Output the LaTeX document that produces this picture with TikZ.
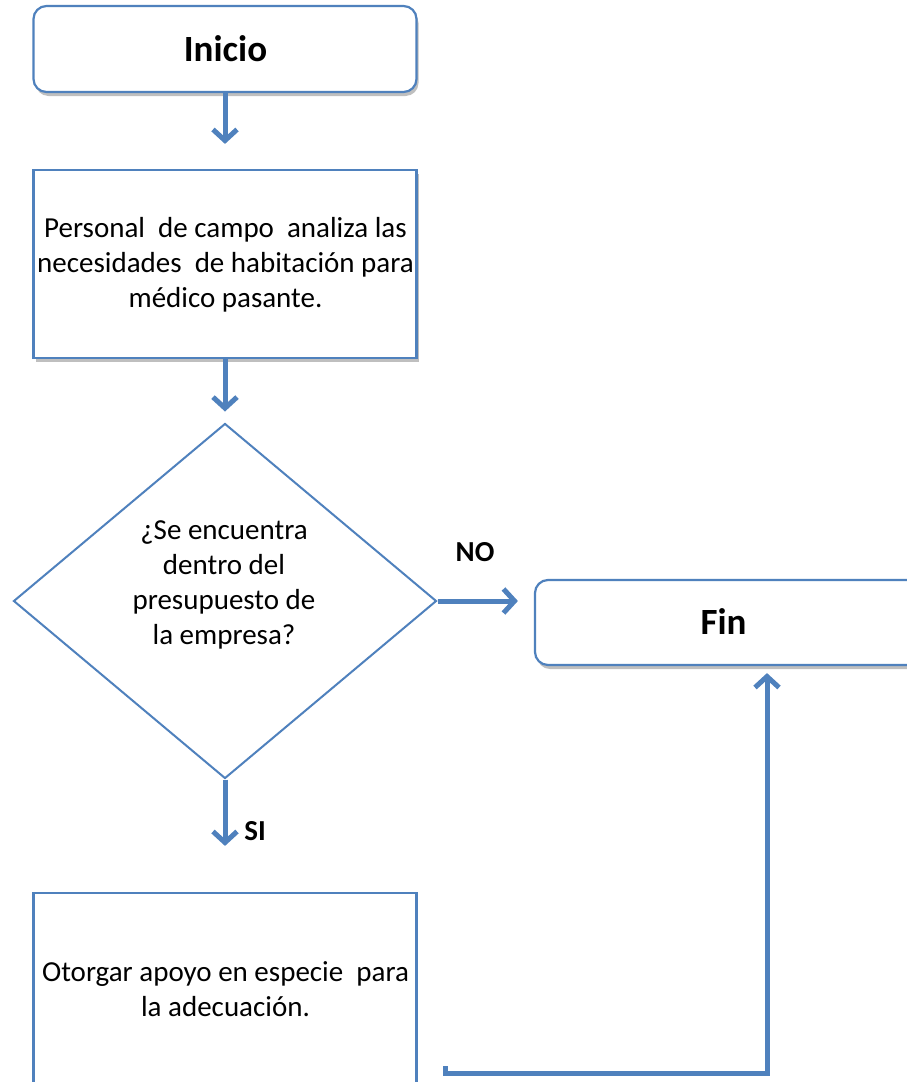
\documentclass[tikz,border=0pt]{standalone}
\usepackage{fontspec}
\setmainfont{Carlito}
\usetikzlibrary{shapes.geometric,arrows.meta,shadows,calc}
\definecolor{obl}{HTML}{4F81BD}
\begin{document}
\begin{tikzpicture}[x=1pt,y=-1pt,
  box/.style={draw=obl,line width=2.2pt,fill=white,minimum width=383pt,inner sep=0pt,align=center},
  roundbox/.style={box,rounded corners=13pt},
  shade/.style={drop shadow={shadow xshift=2pt,shadow yshift=-4pt,opacity=0.25,fill=black}},
  decision/.style={diamond,draw=obl,line width=2pt,fill=white,minimum width=423pt,minimum height=355pt,inner sep=0pt},
  body/.style={font=\fontsize{29}{35}\selectfont,align=center,inner sep=0pt},
  title/.style={font=\fontsize{37}{44}\selectfont\bfseries,inner sep=0pt},
  lab/.style={font=\fontsize{29}{35}\selectfont\bfseries,inner sep=0pt},
  conn/.style={draw=obl,line width=5pt,-{Straight Barb[length=11pt,width=24pt]}}]
\clip (0,0) rectangle (907,1082);
\fill[white] (0,0) rectangle (907,1082);
% nodes
\node[roundbox,shade,minimum height=86pt] (inicio) at (225,49) {};
\node[title] (inicioT) at (225.5,49) {Inicio};
\node[box,shade,minimum height=188pt] (analiza) at (225,264) {};
\node[body] (analizaT) at (225.5,265) {Personal\ \ de campo\ \ analiza las\\necesidades\ \ de habitación para\\médico pasante.};
\node[decision] (dec) at (225,601) {};
\node[body] (decT) at (224,585) {¿Se encuentra\\dentro del\\presupuesto de\\la empresa?};
\node[roundbox,shade,minimum width=400pt,minimum height=85pt] (fin) at (735,622.5) {};
\node[title] (finT) at (723.5,622) {Fin};
\node[box,minimum height=194pt] (otorgar) at (225,990) {};
\node[body] (otorgarT) at (225.5,989) {Otorgar apoyo en especie\ \ para\\la adecuación.};
% labels
\node[lab] (no) at (475,552) {NO};
\node[lab] (si) at (255,831) {SI};
% connectors
\draw[conn,shorten >=25pt] (inicio.south) -- (analiza.north);
\draw[conn,shorten >=11pt] (analiza.south) -- (dec.north);
\draw[conn,shorten >=16pt] (dec.east) -- (dec.east -| fin.west);
\draw[conn,shorten >=46pt] (dec.south) -- (otorgar.north);
\coordinate (fb0) at (445,1066);
\coordinate (fb1) at (767,1073);
\draw[conn,shorten >=7pt] (fb0) |- (fb1) -- (fb1 |- fin.south);
\end{tikzpicture}
\end{document}
